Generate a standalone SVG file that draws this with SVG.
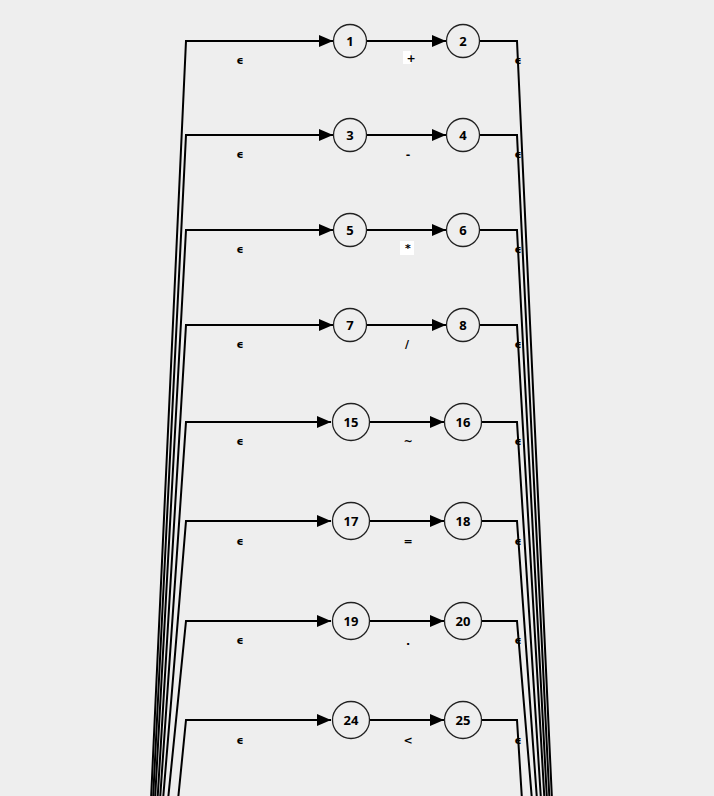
<svg xmlns="http://www.w3.org/2000/svg" width="714" height="796" viewBox="0 0 714 796">
<defs>
<marker id="ah" markerWidth="14" markerHeight="12" refX="14" refY="6" orient="auto" markerUnits="userSpaceOnUse">
<path d="M0,0 L14,6 L0,12 Z" fill="#000"/>
</marker>
<style>
.e{fill:none;stroke:#000;stroke-width:2}
.n circle{fill:#eeeeee;stroke:#222;stroke-width:1.3}
.n text{font-family:"Open Sans","DejaVu Sans",sans-serif;font-weight:bold;font-size:13px;text-anchor:middle;fill:#000}
.l{font-family:"DejaVu Sans",sans-serif;font-weight:bold;font-size:11px;text-anchor:middle;fill:#000}
</style>
</defs>
<rect width="714" height="796" fill="#eeeeee"/>
<g id="connectors">
<path class="e" d="M151,800 L186,41 L333,41" marker-end="url(#ah)"/>
<path class="e" d="M153,800 L186,135 L333,135" marker-end="url(#ah)"/>
<path class="e" d="M155,800 L186,230 L333,230" marker-end="url(#ah)"/>
<path class="e" d="M157.5,800 L186,325 L333,325" marker-end="url(#ah)"/>
<path class="e" d="M160,800 L186,422 L331,422" marker-end="url(#ah)"/>
<path class="e" d="M163,800 L186,521 L331,521" marker-end="url(#ah)"/>
<path class="e" d="M168,800 L186,621 L331,621" marker-end="url(#ah)"/>
<path class="e" d="M178,800 L186,720 L331,720" marker-end="url(#ah)"/>
<path class="e" d="M367,41 L446,41" marker-end="url(#ah)"/>
<path class="e" d="M367,135 L446,135" marker-end="url(#ah)"/>
<path class="e" d="M367,230 L446,230" marker-end="url(#ah)"/>
<path class="e" d="M367,325 L446,325" marker-end="url(#ah)"/>
<path class="e" d="M370,422 L444,422" marker-end="url(#ah)"/>
<path class="e" d="M370,521 L444,521" marker-end="url(#ah)"/>
<path class="e" d="M370,621 L444,621" marker-end="url(#ah)"/>
<path class="e" d="M370,720 L444,720" marker-end="url(#ah)"/>
<path class="e" d="M480,41 L517,41 L552,800"/>
<path class="e" d="M480,135 L517,135 L549.5,800"/>
<path class="e" d="M480,230 L517,230 L547,800"/>
<path class="e" d="M480,325 L517,325 L544.5,800"/>
<path class="e" d="M482,422 L517,422 L541,800"/>
<path class="e" d="M482,521 L517,521 L537,800"/>
<path class="e" d="M482,621 L517,621 L532,800"/>
<path class="e" d="M482,720 L517,720 L522,800"/>
<rect x="403" y="51" width="8" height="13" fill="#fff"/>
<rect x="400" y="241" width="14" height="14" fill="#fff"/>
<text class="l" x="240" y="64">ϵ</text>
<text class="l" x="240" y="158">ϵ</text>
<text class="l" x="240" y="253">ϵ</text>
<text class="l" x="240" y="348">ϵ</text>
<text class="l" x="240" y="445">ϵ</text>
<text class="l" x="240" y="545">ϵ</text>
<text class="l" x="240" y="644">ϵ</text>
<text class="l" x="240" y="744">ϵ</text>
<text class="l" x="518" y="64">ϵ</text>
<text class="l" x="518" y="158">ϵ</text>
<text class="l" x="518" y="253">ϵ</text>
<text class="l" x="518" y="348">ϵ</text>
<text class="l" x="518" y="445">ϵ</text>
<text class="l" x="518" y="545">ϵ</text>
<text class="l" x="518" y="644">ϵ</text>
<text class="l" x="518" y="744">ϵ</text>
<text class="l" x="411" y="62">+</text>
<text class="l" x="408" y="158">-</text>
<text class="l" x="408" y="252">*</text>
<text class="l" x="407" y="348">/</text>
<text class="l" x="408" y="445">~</text>
<text class="l" x="408" y="545">=</text>
<text class="l" x="408" y="645">.</text>
<text class="l" x="408" y="744">&lt;</text>
</g>
<g id="n1" class="n"><circle cx="350" cy="41" r="16.5"/><text x="350" y="46">1</text></g>
<g id="n2" class="n"><circle cx="463" cy="41" r="16.5"/><text x="463" y="46">2</text></g>
<g id="n3" class="n"><circle cx="350" cy="135" r="16.5"/><text x="350" y="140">3</text></g>
<g id="n4" class="n"><circle cx="463" cy="135" r="16.5"/><text x="463" y="140">4</text></g>
<g id="n5" class="n"><circle cx="350" cy="230" r="16.5"/><text x="350" y="235">5</text></g>
<g id="n6" class="n"><circle cx="463" cy="230" r="16.5"/><text x="463" y="235">6</text></g>
<g id="n7" class="n"><circle cx="350" cy="325" r="16.5"/><text x="350" y="330">7</text></g>
<g id="n8" class="n"><circle cx="463" cy="325" r="16.5"/><text x="463" y="330">8</text></g>
<g id="n15" class="n"><circle cx="351" cy="422" r="18.5"/><text x="351" y="427">15</text></g>
<g id="n16" class="n"><circle cx="463" cy="422" r="18.5"/><text x="463" y="427">16</text></g>
<g id="n17" class="n"><circle cx="351" cy="521" r="18.5"/><text x="351" y="526">17</text></g>
<g id="n18" class="n"><circle cx="463" cy="521" r="18.5"/><text x="463" y="526">18</text></g>
<g id="n19" class="n"><circle cx="351" cy="621" r="18.5"/><text x="351" y="626">19</text></g>
<g id="n20" class="n"><circle cx="463" cy="621" r="18.5"/><text x="463" y="626">20</text></g>
<g id="n24" class="n"><circle cx="351" cy="720" r="18.5"/><text x="351" y="725">24</text></g>
<g id="n25" class="n"><circle cx="463" cy="720" r="18.5"/><text x="463" y="725">25</text></g>
</svg>
